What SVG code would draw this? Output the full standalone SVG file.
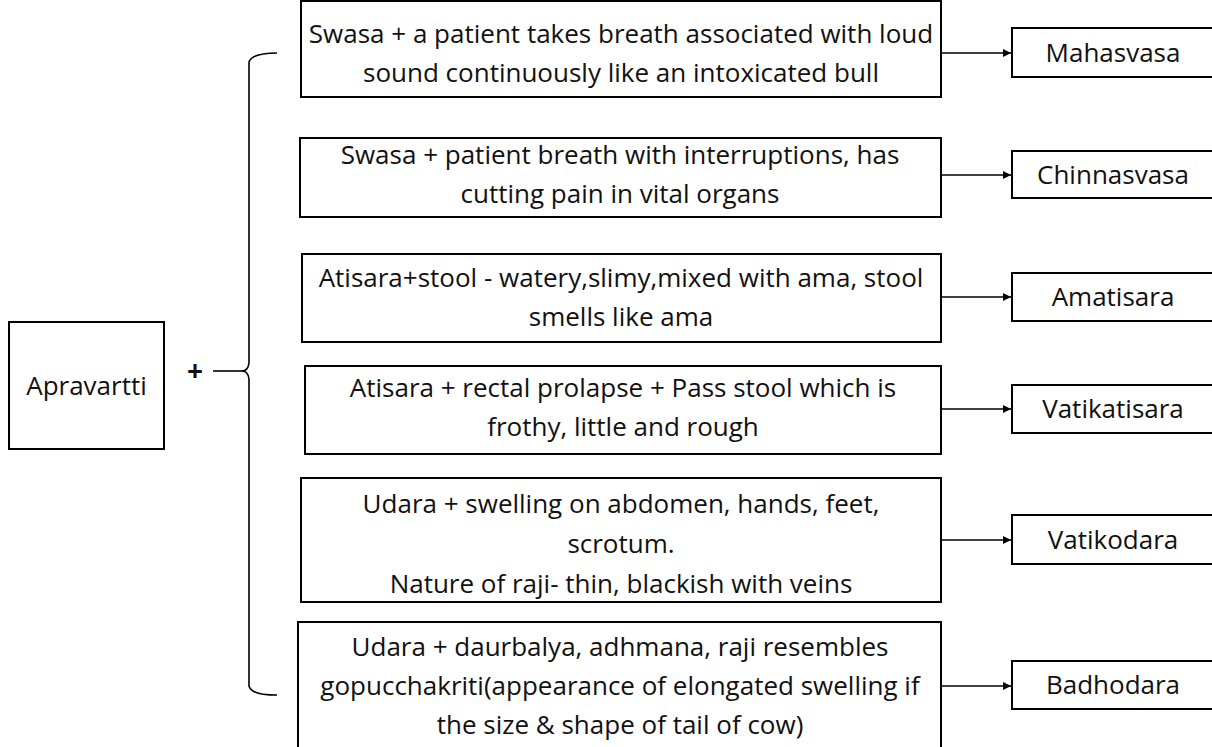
<svg xmlns="http://www.w3.org/2000/svg" width="1212" height="747" viewBox="0 0 1212 747">
<defs>
<style>
.box{fill:#fff;stroke:#000;stroke-width:2}
.t{font-family:"Open Sans","Noto Sans",sans-serif;font-size:26px;fill:#111;text-anchor:middle}
.ln{stroke:#000;stroke-width:1.6;fill:none}
</style>
<marker id="ah" viewBox="0 0 10 10" refX="10" refY="5" markerWidth="8" markerHeight="8" markerUnits="userSpaceOnUse" orient="auto">
<path d="M0,0 L10,5 L0,10 z" fill="#000"/>
</marker>
</defs>
<rect width="1212" height="747" fill="#fff"/>
<g id="apravartti">
<rect class="box" x="9" y="322" width="155" height="127"/>
<text class="t" x="86.5" y="395">Apravartti</text>
</g>
<g id="plus">
<text x="195" y="381" font-family="Open Sans, sans-serif" font-weight="bold" font-size="28" text-anchor="middle" fill="#111">+</text>
</g>
<g id="box1">
<rect class="box" x="301" y="1" width="640" height="96"/>
<text class="t" x="621" y="43">Swasa + a patient takes breath associated with loud</text>
<text class="t" x="621" y="82">sound continuously like an intoxicated bull</text>
</g>
<g id="box2">
<rect class="box" x="300" y="138" width="641" height="79"/>
<text class="t" x="620" y="164">Swasa + patient breath with interruptions, has</text>
<text class="t" x="620" y="203">cutting pain in vital organs</text>
</g>
<g id="box3">
<rect class="box" x="302" y="254" width="639" height="88"/>
<text class="t" x="621" y="287">Atisara+stool - watery,slimy,mixed with ama, stool</text>
<text class="t" x="621" y="326">smells like ama</text>
</g>
<g id="box4">
<rect class="box" x="305" y="366" width="636" height="88"/>
<text class="t" x="623" y="397">Atisara + rectal prolapse + Pass stool which is</text>
<text class="t" x="623" y="436">frothy, little and rough</text>
</g>
<g id="box5">
<rect class="box" x="301" y="478" width="640" height="124"/>
<text class="t" x="621" y="513">Udara + swelling on abdomen, hands, feet,</text>
<text class="t" x="621" y="553">scrotum.</text>
<text class="t" x="621" y="593">Nature of raji- thin, blackish with veins</text>
</g>
<g id="box6">
<rect class="box" x="298" y="622" width="643" height="130"/>
<text class="t" x="620" y="656">Udara + daurbalya, adhmana, raji resembles</text>
<text class="t" x="620" y="695">gopucchakriti(appearance of elongated swelling if</text>
<text class="t" x="620" y="734">the size &amp; shape of tail of cow)</text>
</g>
<g id="mahasvasa">
<rect class="box" x="1012" y="28" width="210" height="49"/>
<text class="t" x="1113" y="62">Mahasvasa</text>
</g>
<g id="chinnasvasa">
<rect class="box" x="1012" y="151" width="210" height="47"/>
<text class="t" x="1113" y="184">Chinnasvasa</text>
</g>
<g id="amatisara">
<rect class="box" x="1012" y="273" width="210" height="48"/>
<text class="t" x="1113" y="306">Amatisara</text>
</g>
<g id="vatikatisara">
<rect class="box" x="1012" y="385" width="210" height="48"/>
<text class="t" x="1113" y="418">Vatikatisara</text>
</g>
<g id="vatikodara">
<rect class="box" x="1012" y="515" width="210" height="49"/>
<text class="t" x="1113" y="549">Vatikodara</text>
</g>
<g id="badhodara">
<rect class="box" x="1012" y="661" width="210" height="48"/>
<text class="t" x="1113" y="694">Badhodara</text>
</g>
<g id="connectors">
<path class="ln" d="M277,53 Q252,53 249,62 L249,363 Q248,371 242,371 Q248,371 249,379 L249,686 Q251,695 277,695"/>
<line class="ln" x1="213" y1="371" x2="243" y2="371"/>
<line class="ln" x1="941" y1="53" x2="1011" y2="53" marker-end="url(#ah)"/>
<line class="ln" x1="941" y1="175" x2="1011" y2="175" marker-end="url(#ah)"/>
<line class="ln" x1="941" y1="297" x2="1011" y2="297" marker-end="url(#ah)"/>
<line class="ln" x1="941" y1="409" x2="1011" y2="409" marker-end="url(#ah)"/>
<line class="ln" x1="941" y1="540" x2="1011" y2="540" marker-end="url(#ah)"/>
<line class="ln" x1="941" y1="686" x2="1011" y2="686" marker-end="url(#ah)"/>
</g>
</svg>
